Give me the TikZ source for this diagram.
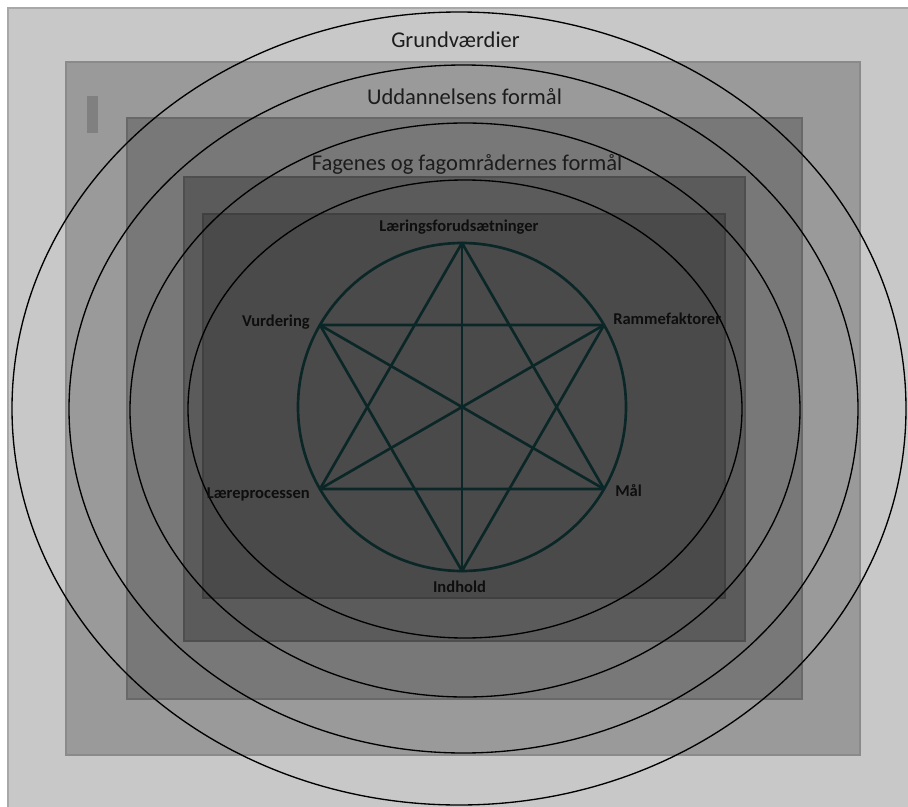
\documentclass[tikz,border=0pt]{standalone}
\usepackage{fontspec}
\setmainfont{Carlito}
\definecolor{layerone}{RGB}{200,200,200}
\definecolor{layertwo}{RGB}{154,154,154}
\definecolor{layerthree}{RGB}{120,120,120}
\definecolor{layerfour}{RGB}{91,91,91}
\definecolor{layerfive}{RGB}{74,74,74}
\definecolor{edgeone}{RGB}{168,168,168}
\definecolor{edgetwo}{RGB}{138,138,138}
\definecolor{edgethree}{RGB}{104,104,104}
\definecolor{edgefour}{RGB}{78,78,78}
\definecolor{edgefive}{RGB}{64,64,64}
\definecolor{barmid}{RGB}{128,128,128}
\definecolor{stardark}{RGB}{10,38,38}
\definecolor{ringtext}{RGB}{28,28,28}
\definecolor{startext}{RGB}{14,14,14}

\begin{document}
\begin{tikzpicture}[
  x=0.75pt, y=-0.75pt,
  layer/.style={line width=1.5pt},
  ring/.style={draw=black, line width=1pt},
  star/.style={draw=stardark, line width=2pt, line join=round},
  ringlbl/.style={font=\fontsize{16.9}{20}\selectfont, text=ringtext, inner sep=0pt},
  starlbl/.style={font=\fontsize{12.4}{15}\selectfont\bfseries, text=startext, inner sep=0pt}
]
\useasboundingbox (0,0) rectangle (908,807);

% --- Nested layers ---
\begin{scope}
\clip (0,0) rectangle (908,807);
\filldraw[layer, fill=layerone, draw=edgeone] (8,8) rectangle (914,813);
\end{scope}
\filldraw[layer, fill=layertwo, draw=edgetwo] (66,62) rectangle (860,755);
\fill[barmid] (87,96) rectangle (98,133);
\filldraw[layer, fill=layerthree, draw=edgethree] (127,118) rectangle (802,699);
\filldraw[layer, fill=layerfour, draw=edgefour] (184,177) rectangle (745,641);
\filldraw[layer, fill=layerfive, draw=edgefive] (203,214) rectangle (725,598);

% --- Rings ---
\draw[ring] (459,408.5) ellipse [x radius=447, y radius=396.5];
\draw[ring] (463.5,409) ellipse [x radius=394.5, y radius=344];
\draw[ring] (465,410) ellipse [x radius=335, y radius=287];
\draw[ring] (465,409) ellipse [x radius=277, y radius=229];

\node[ringlbl, anchor=base] (grund) at (455.5,47) {Grundværdier};
\node[ringlbl, anchor=base] (uddan) at (464.5,104) {Uddannelsens formål};
\node[ringlbl, anchor=base] (fagene) at (467,170) {Fagenes og fagområdernes formål};

% --- Hexagram ---
\coordinate (centre) at (462,407);
\coordinate (vT) at (462,243);
\coordinate (vR) at (604,325);
\coordinate (vM) at (604,489);
\coordinate (vB) at (462,571);
\coordinate (vL) at (320,489);
\coordinate (vV) at (320,325);

\draw[star] (centre) circle [radius=164];
\draw[star] (vT) -- (vM) -- (vL) -- cycle;
\draw[star] (vV) -- (vR) -- (vB) -- cycle;
\draw[star] (vT) -- (vB);
\draw[star] (vV) -- (vM);
\draw[star] (vR) -- (vL);

\node[starlbl, anchor=base] (forud) at (459,231) {Læringsforudsætninger};
\node[starlbl, anchor=base east] (vurd) at (310,326) {Vurdering};
\node[starlbl, anchor=base west] (ramme) at (613,324) {Rammefaktorer};
\node[starlbl, anchor=base east] (laere) at (310,498) {Læreprocessen};
\node[starlbl, anchor=base west] (maal) at (615,496) {Mål};
\node[starlbl, anchor=base] (indh) at (459.5,592) {Indhold};

\end{tikzpicture}
\end{document}
